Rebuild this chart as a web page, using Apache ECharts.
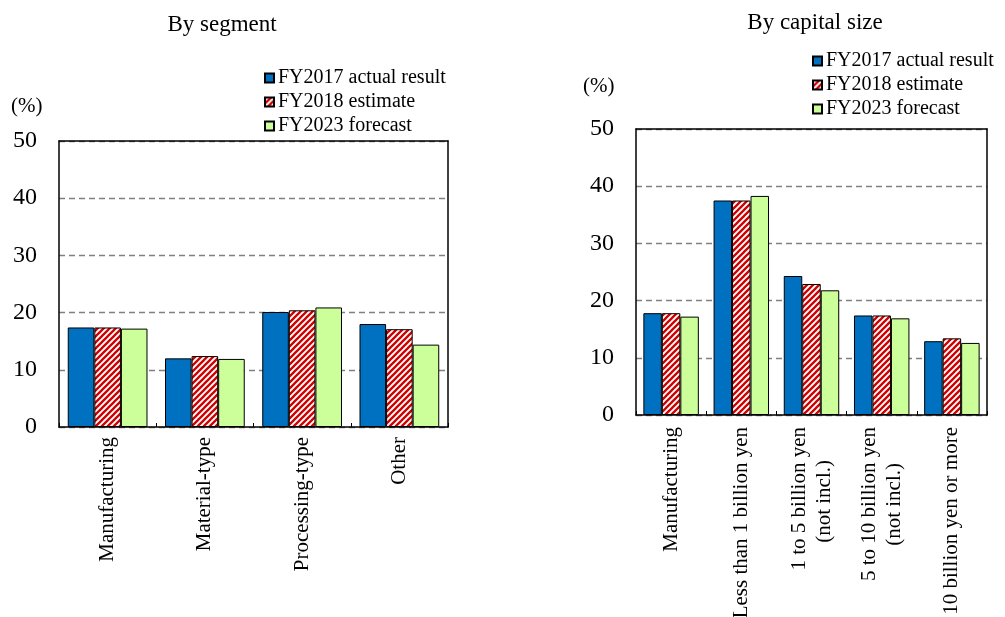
<!DOCTYPE html>
<html>
<head>
<meta charset="utf-8">
<script src="https://cdn.jsdelivr.net/npm/echarts@6/dist/echarts.min.js"></script>
<style>html,body{margin:0;padding:0;background:#fff;}#main{width:1005px;height:617px;}</style>
</head>
<body>
<div id="main"></div>
<script>
var seriesNames = ['FY2017 actual result', 'FY2018 estimate', 'FY2023 forecast'];
var segCategories = ['Manufacturing', 'Material-type', 'Processing-type', 'Other'];
var seg2017 = [17.4, 12.0, 20.1, 18.0];
var seg2018 = [17.4, 12.4, 20.4, 17.1];
var seg2023 = [17.2, 11.9, 20.9, 14.4];
var capCategories = ['Manufacturing', 'Less than 1 billion yen', '1 to 5 billion yen\n(not incl.)', '5 to 10 billion yen\n(not incl.)', '10 billion yen or more'];
var cap2017 = [17.8, 37.5, 24.3, 17.4, 12.9];
var cap2018 = [17.8, 37.5, 22.9, 17.4, 13.4];
var cap2023 = [17.2, 38.3, 21.8, 16.9, 12.6];
var yTicks = [0, 10, 20, 30, 40, 50];

var FONT = "'Liberation Serif','Times New Roman',serif";

function stripePattern() {
  var c = document.createElement('canvas');
  c.width = 6; c.height = 6;
  var g = c.getContext('2d');
  g.fillStyle = '#ffffff';
  g.fillRect(0, 0, 6, 6);
  g.strokeStyle = '#d00000';
  g.lineWidth = 2.3;
  g.beginPath();
  g.moveTo(-1, 7); g.lineTo(7, -1);
  g.moveTo(-4, 4); g.lineTo(4, -4);
  g.moveTo(2, 10); g.lineTo(10, 2);
  g.stroke();
  return { image: c, repeat: 'repeat' };
}
var fills = ['#0070C0', stripePattern(), '#CCFF99'];

var chart = echarts.init(document.getElementById('main'));

var grids = [
  { left: 59, top: 141, width: 389, height: 286, containLabel: false, outerBoundsMode: 'none' },
  { left: 636, top: 129, width: 351, height: 286, containLabel: false, outerBoundsMode: 'none' }
];

function xAxisMain(idx, cats, margin) {
  return {
    type: 'category', gridIndex: idx, data: cats, position: 'bottom',
    axisLine: { show: true, onZero: false, lineStyle: { color: '#000', width: 1.5 } },
    axisTick: { show: true, inside: true, length: 4, lineStyle: { color: '#000' } },
    axisLabel: {
      rotate: 90, margin: margin, fontSize: 21, fontFamily: FONT, color: '#000', lineHeight: 25,
      interval: 0,
      formatter: function (v) {
        var parts = v.split('\n');
        if (parts.length > 1) {
          var key = parts[0].indexOf('10') >= 0 ? 'b' : 'a';
          return parts[0] + '\n{' + key + '|' + parts[1] + '}';
        }
        return v;
      },
      rich: {
        a: { fontSize: 21, fontFamily: FONT, color: '#000', padding: [0, 33, 0, 0], lineHeight: 25 },
        b: { fontSize: 21, fontFamily: FONT, color: '#000', padding: [0, 36, 0, 0], lineHeight: 25 }
      }
    },
    splitLine: { show: false }
  };
}
function xAxisTop(idx, cats) {
  return {
    type: 'category', gridIndex: idx, data: cats, position: 'top', z: 5,
    axisLine: { show: true, onZero: false, lineStyle: { color: '#000', width: 1.5 } },
    axisTick: { show: false }, axisLabel: { show: false }, splitLine: { show: false }
  };
}
function yAxisMain(idx) {
  return {
    type: 'value', gridIndex: idx, min: yTicks[0], max: yTicks[yTicks.length - 1], interval: 10,
    axisLine: { show: true, onZero: false, lineStyle: { color: '#000', width: 1.5 } },
    axisTick: { show: false },
    axisLabel: { fontSize: 24, fontFamily: FONT, color: '#000', margin: 22 },
    splitLine: { show: true, lineStyle: { color: '#808080', width: 1.3, type: [6, 4] } }
  };
}
function yAxisRight(idx) {
  return {
    type: 'value', gridIndex: idx, min: 0, max: 50, interval: 10, position: 'right', z: 5,
    axisLine: { show: true, onZero: false, lineStyle: { color: '#000', width: 1.5 } },
    axisTick: { show: false }, axisLabel: { show: false }, splitLine: { show: false }
  };
}

function bar(name, data, xi, yi, fill, gap) {
  return {
    name: name, type: 'bar', xAxisIndex: xi, yAxisIndex: yi, data: data,
    barGap: '0%', barCategoryGap: gap,
    itemStyle: { color: fill, borderColor: '#000', borderWidth: 1 },
    emphasis: { disabled: true },
    animation: false
  };
}

var legendBase = {
  orient: 'vertical', itemWidth: 9, itemHeight: 9, itemGap: 4, icon: 'rect',
  textStyle: { fontSize: 20, fontFamily: FONT, color: '#000', lineHeight: 20, padding: [0, 0, 0, -1] },
  data: seriesNames, selectedMode: false
};

chart.setOption({
  animation: false,
  title: [
    { text: 'By segment', left: 222, top: 13, textAlign: 'center', padding: 0,
      textStyle: { fontSize: 23, fontWeight: 'normal', fontFamily: FONT, color: '#000' } },
    { text: 'By capital size', left: 815, top: 11, textAlign: 'center', padding: 0,
      textStyle: { fontSize: 23, fontWeight: 'normal', fontFamily: FONT, color: '#000' } }
  ],
  legend: [
    Object.assign({}, legendBase, { left: 264, top: 68, padding: 0 }),
    Object.assign({}, legendBase, { left: 812, top: 51, padding: 0 })
  ],
  grid: grids,
  xAxis: [xAxisMain(0, segCategories, 10), xAxisTop(0, segCategories), xAxisMain(1, capCategories, 12), xAxisTop(1, capCategories)],
  yAxis: [yAxisMain(0), yAxisRight(0), yAxisMain(1), yAxisRight(1)],
  graphic: [
    { type: 'text', left: 11, top: 96, style: { text: '(%)', font: '21px ' + FONT, fill: '#000' } },
    { type: 'text', left: 583, top: 76, style: { text: '(%)', font: '21px ' + FONT, fill: '#000' } }
  ],
  series: [
    bar(seriesNames[0], seg2017, 0, 0, fills[0], '18%'),
    bar(seriesNames[1], seg2018, 0, 0, fills[1], '18%'),
    bar(seriesNames[2], seg2023, 0, 0, fills[2], '18%'),
    bar(seriesNames[0], cap2017, 2, 2, fills[0], '21%'),
    bar(seriesNames[1], cap2018, 2, 2, fills[1], '21%'),
    bar(seriesNames[2], cap2023, 2, 2, fills[2], '21%')
  ]
});
</script>
</body>
</html>
